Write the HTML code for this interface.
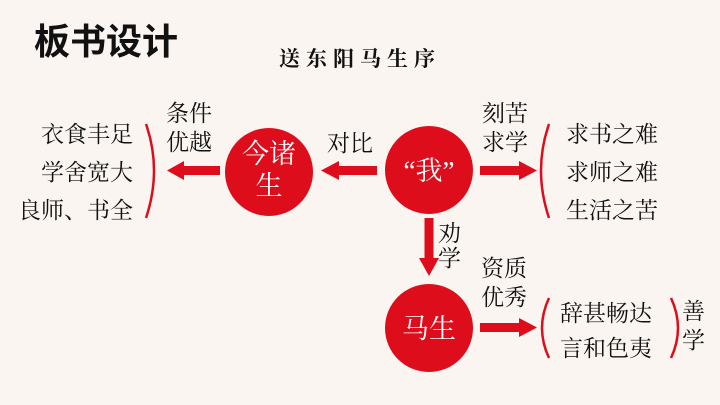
<!DOCTYPE html>
<html><head><meta charset="utf-8"><style>
html,body{margin:0;padding:0;background:#faf5f1;}
svg{display:block;}
text{font-family:"Liberation Serif","Noto Serif CJK SC",serif;}
</style></head><body>
<svg width="720" height="405" viewBox="0 0 720 405" xmlns="http://www.w3.org/2000/svg">
<rect width="720" height="405" fill="#faf5f1"/>
<text x="34" y="54" font-size="36" font-weight="bold" fill="#111" style="font-family:'Liberation Sans','Noto Sans CJK SC',sans-serif">板书设计</text>
<text x="360" y="66" font-size="21" font-weight="bold" fill="#111" text-anchor="middle" letter-spacing="6">送东阳马生序</text>
<g fill="#de0d1c">
<circle cx="269" cy="172" r="44"/>
<circle cx="429" cy="170" r="44"/>
<circle cx="429" cy="328" r="44"/>
<rect x="182" y="166" width="38" height="9"/><polygon points="167,170.5 184,161 184,180"/>
<rect x="337" y="166" width="40" height="9"/><polygon points="321,170.5 339,161 339,180"/>
<rect x="480" y="166" width="40" height="9"/><polygon points="537,170.5 519,161 519,180"/>
<rect x="424.5" y="218" width="9" height="42"/><polygon points="429,276 419,258 439,258"/>
<rect x="480" y="323" width="40" height="9"/><polygon points="537,327.5 519,318 519,337"/>
</g>
<g fill="none" stroke="#de0d1c" stroke-width="2.5">
<path d="M146,124 Q162,170 146,218"/>
<path d="M549,124 Q533,170 549,218"/>
<path d="M549,298 Q535,328 549,358"/>
<path d="M671,298 Q685,328 671,358"/>
</g>
<g fill="#fff" font-size="27" text-anchor="middle" style="font-family:'Liberation Sans','Noto Sans CJK SC',sans-serif">
<text x="269" y="163">今诸</text>
<text x="269" y="195">生</text>
<text x="429" y="180">“我”</text>
<text x="429" y="338">马生</text>
</g>
<g fill="#111" font-size="23">
<g text-anchor="end">
<text x="133" y="142">衣食丰足</text>
<text x="133" y="180">学舍宽大</text>
<text x="133" y="218">良师、书全</text>
</g>
<text x="166" y="121">条件</text>
<text x="166" y="150">优越</text>
<text x="327" y="151">对比</text>
<text x="482" y="121">刻苦</text>
<text x="482" y="150">求学</text>
<text x="566" y="142">求书之难</text>
<text x="566" y="180">求师之难</text>
<text x="566" y="218">生活之苦</text>
<text x="438" y="241">劝</text>
<text x="438" y="266">学</text>
<text x="481" y="276">资质</text>
<text x="481" y="305">优秀</text>
<text x="560" y="321">辞甚畅达</text>
<text x="560" y="356">言和色夷</text>
<text x="682" y="319">善</text>
<text x="682" y="348">学</text>
</g>
</svg>
</body></html>
